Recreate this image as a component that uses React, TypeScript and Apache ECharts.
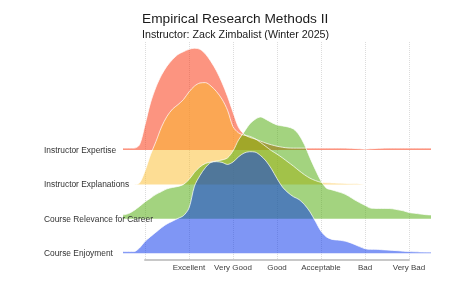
import { useEffect, useRef } from "react";
import * as echarts from "echarts";

// x positions on the rating scale (0 = axis start, 1 = Excellent ... 6 = Very Bad), step 0.125
const X_VALUES = [
  -0.5, -0.375, -0.25, -0.125, 0, 0.125, 0.25, 0.375, 0.5, 0.625, 0.75, 0.875,
  1, 1.125, 1.25, 1.375, 1.5, 1.625, 1.75, 1.875, 2, 2.125, 2.25, 2.375, 2.5,
  2.625, 2.75, 2.875, 3, 3.125, 3.25, 3.375, 3.5, 3.625, 3.75, 3.875, 4, 4.125,
  4.25, 4.375, 4.5, 4.625, 4.75, 4.875, 5, 5.125, 5.25, 5.375, 5.5, 5.625, 5.75,
  5.875, 6, 6.125, 6.25, 6.375, 6.5,
];

const X_TICK_LABELS = ["", "Excellent", "Very Good", "Good", "Acceptable", "Bad", "Very Bad"];

const RIDGE_NAMES = [
  "Course Enjoyment",
  "Course Relevance for Career",
  "Instructor Explanations",
  "Instructor Expertise",
];
const RIDGE_BASELINES = [0, 1, 2, 3];

// density heights (in ridge-row units)
const ENJOYMENT = [
  0.045, 0.045, 0.045, 0.15, 0.34, 0.48, 0.61, 0.74, 0.85, 0.93, 1.01, 1.09,
  1.31, 1.95, 2.26, 2.49, 2.64, 2.66, 2.64, 2.58, 2.65, 2.8, 2.91, 2.95, 2.94,
  2.84, 2.68, 2.45, 2.17, 1.92, 1.76, 1.64, 1.56, 1.41, 1.2, 0.92, 0.64, 0.47,
  0.4, 0.38, 0.36, 0.32, 0.26, 0.19, 0.13, 0.11, 0.11, 0.1, 0.09, 0.08, 0.07,
  0.055, 0.045, 0.04, 0.035, 0.03, 0.03,
];
const RELEVANCE = [
  0.11, 0.15, 0.24, 0.36, 0.49, 0.6, 0.71, 0.79, 0.87, 0.91, 0.94, 1.0, 1.14,
  1.35, 1.51, 1.61, 1.65, 1.68, 1.71, 1.77, 1.97, 2.29, 2.52, 2.75, 2.89, 2.96,
  2.89, 2.8, 2.73, 2.7, 2.67, 2.61, 2.44, 2.15, 1.77, 1.42, 1.1, 0.89, 0.84,
  0.79, 0.74, 0.66, 0.56, 0.47, 0.39, 0.31, 0.3, 0.3, 0.3, 0.29, 0.26, 0.23,
  0.18, 0.16, 0.14, 0.12, 0.11,
];
const EXPLANATIONS = [
  0, 0, 0, 0.04, 0.39, 0.86, 1.25, 1.67, 1.98, 2.19, 2.32, 2.47, 2.69, 2.86,
  2.95, 2.96, 2.86, 2.7, 2.48, 2.16, 1.68, 1.5, 1.43, 1.4, 1.33, 1.22, 1.1,
  0.98, 0.88, 0.77, 0.65, 0.53, 0.4, 0.28, 0.18, 0.11, 0.06, 0.045, 0.04,
  0.035, 0.03, 0.02, 0.015, 0.01, 0, 0, 0, 0, 0, 0, 0, 0, 0, 0, 0, 0, 0,
];
const EXPERTISE = [
  0.055, 0.055, 0.055, 0.15, 0.73, 1.37, 1.83, 2.18, 2.44, 2.63, 2.78, 2.86,
  2.93, 2.96, 2.93, 2.79, 2.57, 2.3, 1.96, 1.56, 1.1, 0.66, 0.46, 0.37, 0.32,
  0.26, 0.2, 0.15, 0.11, 0.08, 0.06, 0.055, 0.055, 0.055, 0.055, 0.055, 0.055,
  0.055, 0.055, 0.055, 0.055, 0.05, 0.045, 0.035, 0.025, 0.035, 0.045, 0.05,
  0.055, 0.055, 0.055, 0.055, 0.055, 0.055, 0.055, 0.055, 0.055,
];

const RIDGE_VALUES = [ENJOYMENT, RELEVANCE, EXPLANATIONS, EXPERTISE];
const RIDGE_COLORS = ["#002DEB", "#47A700", "#FBBB29", "#F92901"];

const FONT = "'Liberation Sans', Arial, sans-serif";

export default function App() {
  const ref = useRef<HTMLDivElement>(null);

  useEffect(() => {
    const chart = echarts.init(ref.current!, null, { renderer: "svg" });

    const series: any[] = [];
    // draw back (top ridge) to front (bottom ridge)
    for (let r = RIDGE_NAMES.length - 1; r >= 0; r--) {
      const base = RIDGE_BASELINES[r];
      series.push({
        type: "line",
        name: RIDGE_NAMES[r],
        xAxisIndex: 0,
        yAxisIndex: 0,
        silent: true,
        symbol: "none",
        smooth: 0.3,
        lineStyle: { color: "#ffffff", width: 0.8, opacity: 0.9 },
        areaStyle: { color: RIDGE_COLORS[r], opacity: 0.5, origin: base },
        data: X_VALUES.map((x, i) => [x, base + RIDGE_VALUES[r][i]]),
      });
    }

    const option: any = {
      animation: false,
      title: [
        {
          text: "Empirical Research Methods II",
          left: 142,
          top: 11.4,
          padding: 0,
          textStyle: { fontSize: 13.7, fontWeight: "normal", color: "#1a1a1a", fontFamily: FONT },
        },
        {
          text: "Instructor: Zack Zimbalist (Winter 2025)",
          left: 142,
          top: 28.6,
          padding: 0,
          textStyle: { fontSize: 10.7, fontWeight: "normal", color: "#1a1a1a", fontFamily: FONT },
        },
      ],
      grid: [
        { left: 122, width: 310, top: 40, height: 220 },
        { left: 145, width: 264, top: 42, height: 218 },
      ],
      xAxis: [
        { type: "value", gridIndex: 0, min: -0.5227, max: 6.5227, show: false },
        {
          type: "value",
          gridIndex: 1,
          min: 0,
          max: 6,
          interval: 1,
          axisLine: { show: true, lineStyle: { color: "#c8c8c8", width: 2 } },
          axisTick: { show: false },
          axisLabel: {
            margin: 3,
            fontSize: 8,
            color: "#404040",
            fontFamily: FONT,
            formatter: (v: number) => X_TICK_LABELS[Math.round(v)] ?? "",
          },
          splitLine: { show: true, lineStyle: { color: "#dcdcdc", type: "dotted", width: 1 } },
        },
      ],
      yAxis: [
        {
          type: "value",
          gridIndex: 0,
          min: -0.2,
          max: 6.2,
          z: 10,
          axisLine: { show: false },
          axisTick: { show: false },
          splitLine: { show: false },
          axisLabel: {
            customValues: RIDGE_BASELINES,
            align: "left",
            margin: 78,
            fontSize: 8.4,
            color: "#333333",
            fontFamily: FONT,
            formatter: (v: number) => {
              const i = RIDGE_BASELINES.indexOf(Math.round(v));
              return i >= 0 && Math.abs(v - Math.round(v)) < 1e-6 ? RIDGE_NAMES[i] : "";
            },
          },
        },
        { type: "value", gridIndex: 1, min: 0, max: 1, show: false },
      ],
      series,
    };

    chart.setOption(option);
    return () => chart.dispose();
  }, []);

  return (
    <div
      ref={ref}
      style={{ position: "fixed", left: 0, top: 0, width: 454, height: 284 }}
    />
  );
}
